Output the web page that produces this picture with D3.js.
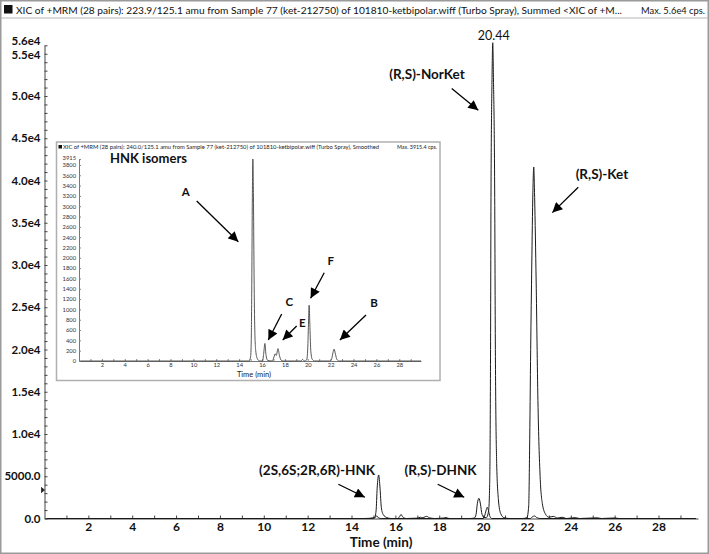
<!DOCTYPE html>
<html>
<head>
<meta charset="utf-8">
<script src="https://cdn.jsdelivr.net/npm/d3@7"></script>
<style>
  body { margin: 0; background: #fff; }
  svg { display: block; font-family: Lato, "DejaVu Sans", sans-serif; }
</style>
</head>
<body>
<div id="chart"></div>
<script>
// ---- data: [time (min), intensity (cps)] ----
const mainTrace = [
  [0.1,0],[14.6,0],[15.05,100],[15.12,900],[15.17,3600],[15.24,5150],[15.3,3600],[15.36,1300],[15.45,450],[15.6,120],[15.8,0],
  [16.1,0],[16.2,250],[16.26,480],[16.33,200],[16.5,0],
  [17.0,40],[17.15,150],[17.22,90],[17.3,140],[17.43,260],[17.55,80],[17.8,0],
  [18.2,60],[18.3,120],[18.45,0],
  [19.4,0],[19.6,60],[19.68,500],[19.74,1800],[19.81,2390],[19.88,1700],[19.95,500],[20.05,120],
  [20.15,100],[20.25,900],[20.3,4000],[20.34,20000],[20.36,38000],[20.41,52500],[20.44,56300],[20.47,52500],
  [20.53,38000],[20.56,20000],[20.62,6500],[20.7,2200],[20.8,600],[20.95,100],[21.2,0],
  [21.8,0],[22.0,100],[22.08,1500],[22.12,8000],[22.17,20000],[22.22,30000],[22.27,38500],[22.31,41600],
  [22.35,38000],[22.42,28000],[22.5,14000],[22.6,5000],[22.7,1800],[22.85,500],[23.0,150],[23.2,250],[23.4,60],
  [23.6,150],[23.8,0],[24.2,100],[24.4,0],[25.2,80],[25.4,0],[26.0,60],[26.2,0],[29.7,0]
];
const overlayTrace = [
  [0.1,0],[15.0,0],[15.1,200],[15.16,300],[15.22,100],[15.35,0],
  [20.0,0],[20.07,300],[20.13,900],[20.19,1330],[20.25,900],[20.31,250],[20.4,0],
  [22.15,0],[22.25,200],[22.35,300],[22.45,100],[22.6,0],[29.7,0]
];
const insetTrace = [
  [0.1,0],[14.85,0],[15.0,80],[15.06,400],[15.1,1300],[15.15,3000],[15.2,3915],[15.25,3200],[15.3,1800],
  [15.36,700],[15.45,200],[15.6,40],[15.8,0],
  [16.05,0],[16.15,150],[16.25,340],[16.34,130],[16.5,10],
  [16.9,0],[17.05,80],[17.15,140],[17.25,110],[17.4,240],[17.52,110],[17.7,10],[17.9,0],
  [19.4,0],[19.55,30],[19.7,0],[19.9,20],[20.0,250],[20.06,700],[20.12,1080],[20.19,650],[20.27,180],[20.4,30],[20.6,0],
  [21.9,0],[22.1,50],[22.2,160],[22.3,230],[22.42,130],[22.55,30],[22.75,0],[29.9,0]
];

const mainYMax = 56000;
const mainYMinor = d3.range(0, 56001, 1000);
const insetYMax = 3915;
const insetYTicks = d3.range(0, 3801, 200);
const timeTicks = d3.range(1, 30);
const apexTime = 20.44;

const mainTitle = "XIC of +MRM (28 pairs): 223.9/125.1 amu from Sample 77 (ket-212750) of 101810-ketbipolar.wiff (Turbo Spray), Summed <XIC of +M...";
const mainMax = "Max. 5.6e4 cps.";
const insetTitle = "XIC of +MRM (28 pairs): 240.0/125.1 amu from Sample 77 (ket-212750) of 101810-ketbipolar.wiff (Turbo Spray), Smoothed";
const insetMax = "Max. 3915.4 cps.";

// annotations in data units: label centre, arrow start, arrow tip
const mainNotes = [
  {text: "(R,S)-NorKet", at: [17.44, 52600], from: [18.57, 50900], to: [19.78, 48300]},
  {text: "(R,S)-Ket", at: [25.42, 40700], from: [24.34, 39200], to: [23.16, 36200]},
  {text: "(2S,6S;2R,6R)-HNK", at: [12.43, 5660], from: [13.40, 4050], to: [14.61, 2510]},
  {text: "(R,S)-DHNK", at: [18.06, 5660], from: [17.93, 4050], to: [19.14, 2510]}
];
const insetNotes = [
  {text: "A", at: [9.33, 3270], from: [10.29, 3100], to: [13.93, 2312]},
  {text: "F", at: [22.0, 1948], from: [21.44, 1711], to: [20.25, 1215]},
  {text: "C", at: [18.38, 1149], from: [17.72, 911], to: [16.55, 407]},
  {text: "E", at: [19.52, 731], from: [19.03, 678], to: [17.81, 407]},
  {text: "B", at: [25.79, 1118], from: [25.09, 891], to: [22.81, 407]}
];

const W = 709, H = 554;
const svg = d3.select("#chart").append("svg")
  .attr("width", W)
  .attr("height", H);

// arrow head
svg.append("defs").append("marker")
  .attr("id", "head")
  .attr("markerUnits", "userSpaceOnUse")
  .attr("viewBox", "0 0 10 10")
  .attr("refX", 10).attr("refY", 5)
  .attr("markerWidth", 11).attr("markerHeight", 10)
  .attr("orient", "auto")
  .append("path")
  .attr("d", "M0,0L10,5L0,10z")
  .attr("fill", "#000");

// frame + title bar
svg.append("rect")
  .attr("x", 0.75).attr("y", 0.75)
  .attr("width", W - 1.5).attr("height", H - 1.5)
  .attr("fill", "#fff")
  .attr("stroke", "#9a9a9a")
  .attr("stroke-width", 1.5);
svg.append("line")
  .attr("x1", 1).attr("x2", W - 1)
  .attr("y1", 18).attr("y2", 18)
  .attr("stroke", "#b5b5b5");
svg.append("rect")
  .attr("x", 4).attr("y", 5).attr("width", 8.5).attr("height", 8.5)
  .attr("fill", "#111");
svg.append("text")
  .attr("x", 16).attr("y", 13.5)
  .attr("textLength", 606).attr("lengthAdjust", "spacingAndGlyphs")
  .style("font-size", "10px").style("fill", "#111")
  .text(mainTitle);
svg.append("text")
  .attr("x", 641).attr("y", 13.5)
  .attr("textLength", 64).attr("lengthAdjust", "spacingAndGlyphs")
  .style("font-size", "9.5px").style("fill", "#111")
  .text(mainMax);

// ---- main chart ----
const x = d3.scaleLinear().domain([0, 29.8]).range([44.5, 698]);
const y = d3.scaleLinear().domain([0, mainYMax]).range([518.5, 45.3]);

const xAxis = svg.append("g")
  .attr("transform", "translate(0," + y(0) + ")")
  .call(d3.axisBottom(x)
    .tickValues(timeTicks)
    .tickSizeInner(-3).tickSizeOuter(0)
    .tickPadding(4)
    .tickFormat(d => d % 2 === 0 ? d : ""));
xAxis.selectAll("text")
  .style("font-size", "12px").style("font-weight", "700")
  .style("font-family", "Lato, sans-serif").style("fill", "#111");

const yAxis = svg.append("g")
  .attr("transform", "translate(" + x(0) + ",0)")
  .call(d3.axisLeft(y)
    .tickValues(mainYMinor)
    .tickSizeInner(-3).tickSizeOuter(0)
    .tickPadding(4)
    .tickFormat(d => {
      if (d === 0) return "0.0";
      if (d === 5000) return "5000.0";
      if (d % 5000 === 0 || d === mainYMax) return (d / 1e4).toFixed(1) + "e4";
      return "";
    }));
yAxis.selectAll("text")
  .style("font-size", "11.5px").style("font-weight", "700")
  .style("font-family", "Lato, sans-serif").style("fill", "#111")
  .attr("dy", d => d === mainYMax ? "-0.1em" : d === 55000 ? "0.45em" : "0.32em");
svg.selectAll(".domain").attr("stroke", "#444");
svg.selectAll(".tick line").attr("stroke", "#444");

// small marker on the y axis
svg.append("path")
  .attr("d", "M41.5," + (y(3370) - 3) + "v6M42," + (y(3370) - 2) + "l2.5,2l-2.5,2z")
  .attr("stroke", "#222").attr("fill", "#222").attr("stroke-width", 0.8);

svg.append("text")
  .attr("x", 381).attr("y", 547)
  .attr("text-anchor", "middle")
  .style("font-size", "13.5px").style("font-weight", "700").style("fill", "#111")
  .text("Time (min)");

const line = d3.line()
  .x(d => x(d[0]))
  .y(d => y(d[1]))
  .curve(d3.curveMonotoneX);

[overlayTrace, mainTrace].forEach(tr => {
  svg.append("path")
    .datum(tr)
    .attr("d", line)
    .attr("fill", "none")
    .attr("stroke", "#1a1a1a")
    .attr("stroke-width", 1);
});

const apex = mainTrace.find(d => d[0] === apexTime);
svg.append("text")
  .attr("x", x(apex[0]) + 1).attr("y", y(apex[1]) - 3)
  .attr("text-anchor", "middle")
  .style("font-size", "12.5px").style("fill", "#111")
  .text(apexTime.toFixed(2));

function drawNotes(g, notes, sx, sy, size) {
  notes.forEach(n => {
    g.append("line")
      .attr("x1", sx(n.from[0])).attr("y1", sy(n.from[1]))
      .attr("x2", sx(n.to[0])).attr("y2", sy(n.to[1]))
      .attr("stroke", "#000").attr("stroke-width", 1.3)
      .attr("marker-end", "url(#head)");
    g.append("text")
      .attr("x", sx(n.at[0])).attr("y", sy(n.at[1]))
      .attr("dy", "0.35em")
      .attr("text-anchor", "middle")
      .style("font-size", size).style("font-weight", "700").style("fill", "#111")
      .text(n.text);
  });
}
drawNotes(svg, mainNotes, x, y, "13.5px");

// ---- inset ----
const inset = svg.append("g");
inset.append("rect")
  .attr("x", 56.5).attr("y", 142)
  .attr("width", 383.5).attr("height", 238.5)
  .attr("fill", "#fff")
  .attr("stroke", "#b0b0b0").attr("stroke-width", 1.5);
inset.append("rect")
  .attr("x", 58.5).attr("y", 145).attr("width", 3.5).attr("height", 3.5)
  .attr("fill", "#111");
inset.append("text")
  .attr("x", 63).attr("y", 149)
  .attr("textLength", 316).attr("lengthAdjust", "spacingAndGlyphs")
  .style("font-size", "5.6px").style("fill", "#222")
  .text(insetTitle);
inset.append("text")
  .attr("x", 397).attr("y", 149)
  .attr("textLength", 40).attr("lengthAdjust", "spacingAndGlyphs")
  .style("font-size", "5.6px").style("fill", "#222")
  .text(insetMax);
inset.append("text")
  .attr("x", 110).attr("y", 163)
  .style("font-size", "13px").style("font-weight", "700").style("fill", "#111")
  .text("HNK isomers");

const ix = d3.scaleLinear().domain([0, 29.9]).range([79, 421]);
const iy = d3.scaleLinear().domain([0, insetYMax]).range([361, 159]);

inset.append("g")
  .attr("transform", "translate(0," + iy(0) + ")")
  .call(d3.axisBottom(ix)
    .tickValues(timeTicks)
    .tickSizeInner(-2).tickSizeOuter(0)
    .tickPadding(2)
    .tickFormat(d => d % 2 === 0 ? d : ""));
const iyAxis = inset.append("g")
  .attr("transform", "translate(" + ix(0) + ",0)")
  .call(d3.axisLeft(iy)
    .tickValues(insetYTicks.concat([insetYMax]))
    .tickSizeInner(-2).tickSizeOuter(0)
    .tickPadding(3)
    .tickFormat(d3.format("d")));
iyAxis.selectAll("text")
  .attr("dy", d => d === insetYMax ? "0.05em" : "0.32em");
inset.selectAll("text")
  .filter(function () { return this.parentNode.classList.contains("tick"); })
  .style("font-size", "5.8px").style("fill", "#333")
  .style("font-family", "Lato, sans-serif");
inset.selectAll(".domain").attr("stroke", "#777");
inset.selectAll(".tick line").attr("stroke", "#888");

inset.append("text")
  .attr("x", 254).attr("y", 377)
  .attr("text-anchor", "middle")
  .style("font-size", "7.5px").style("fill", "#222")
  .text("Time (min)");

const iline = d3.line()
  .x(d => ix(d[0]))
  .y(d => iy(d[1]))
  .curve(d3.curveMonotoneX);
inset.append("path")
  .datum(insetTrace)
  .attr("d", iline)
  .attr("fill", "none")
  .attr("stroke", "#444")
  .attr("stroke-width", 0.9);

drawNotes(inset, insetNotes, ix, iy, "11.5px");
</script>
</body>
</html>
